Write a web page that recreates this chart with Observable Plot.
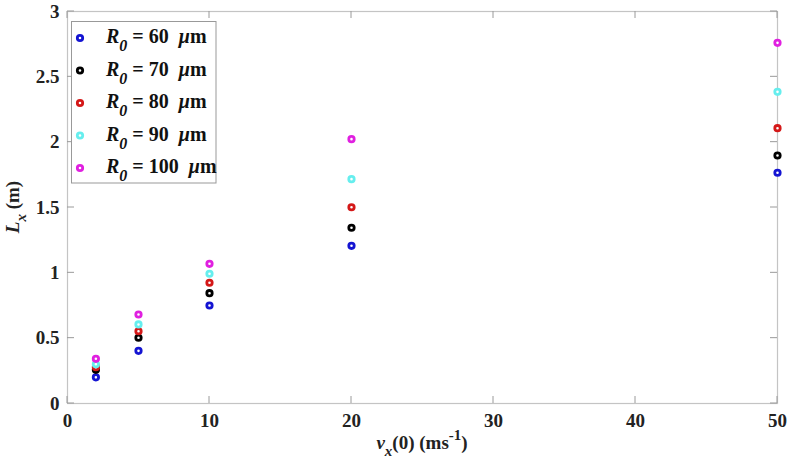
<!DOCTYPE html>
<html><head><meta charset="utf-8">
<script src="https://cdn.jsdelivr.net/npm/d3@7"></script>
<script src="https://cdn.jsdelivr.net/npm/@observablehq/plot@0.6"></script>
<style>
body{margin:0;background:#fff}
#chart svg{font-family:"Liberation Serif","Times New Roman",serif}
</style>
</head><body><div id="chart"></div>
<script>
// ---- data ----
const vx = [2, 5, 10, 20, 50];
const R0 = [60, 70, 80, 90, 100];
const L_R60  = [0.200, 0.403, 0.750, 1.207, 1.766];
const L_R70  = [0.258, 0.503, 0.844, 1.345, 1.898];
const L_R80  = [0.278, 0.553, 0.924, 1.502, 2.107];
const L_R90  = [0.300, 0.605, 0.993, 1.717, 2.385];
const L_R100 = [0.342, 0.681, 1.069, 2.023, 2.760];
const xTicks = [0, 10, 20, 30, 40, 50];
const yTicks = [0, 0.5, 1, 1.5, 2, 2.5, 3];
const colors = ["#1414d2", "#000000", "#d41818", "#66eeee", "#e020e0"];

const seriesValues = [L_R60, L_R70, L_R80, L_R90, L_R100];
const data = [];
R0.forEach((r, i) => vx.forEach((v, j) => data.push({vx: v, L: seriesValues[i][j], R0: r})));

const dotR = 2.7, dotSW = 2.8;

const plot = Plot.plot({
  width: 790, height: 458,
  marginLeft: 67, marginRight: 13, marginTop: 11, marginBottom: 55,
  style: {fontFamily: "Liberation Serif, Times New Roman, serif", fontSize: "19px", fontWeight: "bold", background: "#fff", color: "#222", overflow: "visible"},
  x: {domain: [0, 50], label: null},
  y: {domain: [0, 3], label: null},
  color: {domain: R0, range: colors},
  marks: [
    Plot.frame({stroke: "#c4c4c4", strokeWidth: 1.2}),
    Plot.axisX({ticks: xTicks, tickSize: 0, tickPadding: 10, label: null, tickFormat: d => String(d)}),
    Plot.axisY({ticks: yTicks, tickSize: 0, tickPadding: 8, label: null, tickFormat: d => String(d)}),
    Plot.dot(data, {x: "vx", y: "L", stroke: "R0", fill: "white", r: dotR, strokeWidth: dotSW})
  ]
});
document.getElementById("chart").appendChild(plot);

const svg = d3.select(plot);
const sx = plot.scale("x"), sy = plot.scale("y");
const x0 = sx.apply(0), x1 = sx.apply(50), y0 = sy.apply(0), y1 = sy.apply(3);
const tl = 7;
const tg = svg.append("g").attr("stroke", "#9a9a9a").attr("stroke-width", 1);
xTicks.forEach(t => {
  const x = sx.apply(t);
  tg.append("line").attr("x1", x).attr("x2", x).attr("y1", y0).attr("y2", y0 - tl);
  tg.append("line").attr("x1", x).attr("x2", x).attr("y1", y1).attr("y2", y1 + tl);
});
yTicks.forEach(t => {
  const y = sy.apply(t);
  tg.append("line").attr("y1", y).attr("y2", y).attr("x1", x0).attr("x2", x0 + tl);
  tg.append("line").attr("y1", y).attr("y2", y).attr("x1", x1).attr("x2", x1 - tl);
});

// axis labels
const xl = svg.append("text").attr("x", (x0 + x1) / 2).attr("y", 449)
  .attr("text-anchor", "middle").attr("font-size", 19).attr("font-weight", "bold").attr("fill", "#222");
xl.append("tspan").attr("font-style", "italic").text("v");
xl.append("tspan").attr("font-style", "italic").attr("font-size", 15).attr("dy", 7).text("x");
xl.append("tspan").attr("dy", -7).text("(0) (ms");
xl.append("tspan").attr("font-size", 15).attr("dy", -9).text("-1");
xl.append("tspan").attr("dy", 9).text(")");

const yl = svg.append("text").attr("transform", `translate(19,${(y0 + y1) / 2}) rotate(-90)`)
  .attr("text-anchor", "middle").attr("font-size", 19).attr("font-weight", "bold").attr("fill", "#222");
yl.append("tspan").attr("font-style", "italic").text("L");
yl.append("tspan").attr("font-style", "italic").attr("font-size", 15).attr("dy", 7).text("x");
yl.append("tspan").attr("dy", -7).text(" (m)");

// legend
const lg = svg.append("g");
lg.append("rect").attr("x", 71.5).attr("y", 21.5).attr("width", 144.5).attr("height", 161.5)
  .attr("fill", "white").attr("stroke", "#999").attr("stroke-width", 1);
R0.forEach((r, i) => {
  const cy = 38 + i * 32.5;
  lg.append("circle").attr("cx", 80).attr("cy", cy).attr("r", dotR)
    .attr("fill", "white").attr("stroke", colors[i]).attr("stroke-width", dotSW);
  const t = lg.append("text").attr("x", 106).attr("y", cy + 5).attr("font-size", 20)
    .attr("text-anchor", "start").attr("font-weight", "bold").attr("fill", "#111");
  t.append("tspan").attr("font-style", "italic").text("R");
  t.append("tspan").attr("font-style", "italic").attr("font-size", 16).attr("dy", 8).text("0");
  t.append("tspan").attr("dy", -8).text("\u00a0= " + r + "\u00a0\u00a0");
  t.append("tspan").attr("font-style", "italic").text("\u03bc");
  t.append("tspan").text("m");
});
</script>
</body></html>
